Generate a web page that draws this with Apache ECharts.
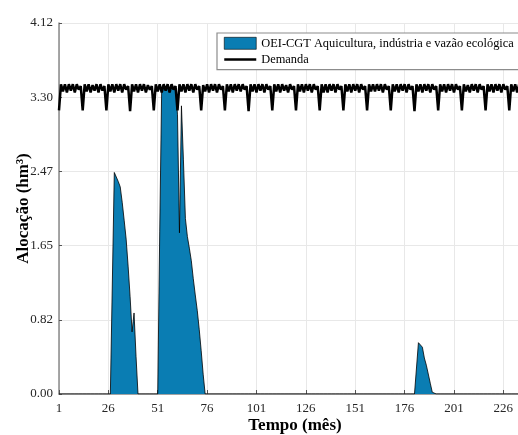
<!DOCTYPE html>
<html>
<head>
<meta charset="utf-8">
<script src="https://cdn.jsdelivr.net/npm/echarts@6/dist/echarts.min.js"></script>
<style>html,body{margin:0;padding:0;background:#fff}#c{width:518px;height:435px}</style>
</head>
<body>
<div id="c"></div>
<script>
// Months 1..240 (x categories)
const months = [];
for (let m = 1; m <= 240; m++) months.push(String(m));
const xTickLabels = [1, 26, 51, 76, 101, 126, 151, 176, 201, 226];
const yTicks = [0.00, 0.82, 1.65, 2.47, 3.30, 4.12];

// OEI-CGT allocation (hm³), month 1..240
const allocation = [
  0,0,0,0,0,0,0,0,0,0,0,0,
  0,0,0,0,0,0,0,0,0,0,0,0,
  0,0,0,0,2.46,2.41,2.36,2.30,2.13,1.93,1.72,1.42,
  1.08,0.69,0.90,0.42,0,0,0,0,0,0,0,0,
  0,0,0,1.80,3.40,3.44,3.37,3.44,3.35,3.44,3.38,3.42,
  3.10,1.79,3.20,2.60,1.95,1.75,1.62,1.48,1.28,1.10,0.93,0.72,
  0.48,0.22,0,0,0,0,0,0,0,0,0,0,
  0,0,0,0,0,0,0,0,0,0,0,0,
  0,0,0,0,0,0,0,0,0,0,0,0,
  0,0,0,0,0,0,0,0,0,0,0,0,
  0,0,0,0,0,0,0,0,0,0,0,0,
  0,0,0,0,0,0,0,0,0,0,0,0,
  0,0,0,0,0,0,0,0,0,0,0,0,
  0,0,0,0,0,0,0,0,0,0,0,0,
  0,0,0,0,0,0,0,0,0,0,0,0,
  0,0,0.57,0.55,0.52,0.40,0.32,0.31,0.12,0.02,0,0,
  0,0,0,0,0,0,0,0,0,0,0,0,
  0,0,0,0,0,0,0,0,0,0,0,0,
  0,0,0,0,0,0,0,0,0,0,0,0,
  0,0,0,0,0,0,0,0,0,0,0,0
];

// Demand (hm³), month 1..240
const demand = [
  3.15,3.44,3.36,3.44,3.35,3.44,3.37,3.44,3.35,3.44,3.38,3.42,
  3.15,3.44,3.36,3.44,3.35,3.43,3.37,3.44,3.35,3.44,3.37,3.42,
  3.15,3.44,3.36,3.44,3.35,3.44,3.37,3.44,3.35,3.44,3.38,3.42,
  3.14,3.44,3.36,3.44,3.35,3.44,3.37,3.44,3.35,3.43,3.38,3.42,
  3.15,3.44,3.36,3.44,3.35,3.44,3.37,3.44,3.35,3.44,3.38,3.42,
  3.15,3.44,3.36,3.44,3.35,3.44,3.37,3.44,3.35,3.44,3.38,3.42,
  3.15,3.43,3.36,3.44,3.35,3.44,3.37,3.44,3.35,3.44,3.38,3.42,
  3.15,3.44,3.36,3.44,3.35,3.44,3.37,3.44,3.36,3.44,3.38,3.42,
  3.14,3.44,3.36,3.44,3.35,3.44,3.37,3.44,3.35,3.44,3.38,3.42,
  3.15,3.44,3.36,3.44,3.35,3.44,3.37,3.43,3.35,3.44,3.38,3.42,
  3.15,3.44,3.36,3.44,3.35,3.44,3.37,3.44,3.35,3.44,3.38,3.42,
  3.15,3.44,3.35,3.44,3.35,3.44,3.37,3.44,3.35,3.44,3.38,3.42,
  3.15,3.44,3.36,3.44,3.35,3.44,3.37,3.44,3.35,3.44,3.38,3.42,
  3.15,3.44,3.36,3.44,3.36,3.44,3.37,3.44,3.35,3.44,3.38,3.42,
  3.15,3.44,3.36,3.44,3.35,3.44,3.37,3.44,3.35,3.44,3.38,3.42,
  3.14,3.44,3.36,3.44,3.35,3.44,3.37,3.44,3.35,3.44,3.38,3.42,
  3.15,3.44,3.36,3.44,3.35,3.44,3.37,3.44,3.35,3.44,3.38,3.42,
  3.15,3.44,3.36,3.43,3.35,3.44,3.37,3.44,3.35,3.44,3.38,3.42,
  3.15,3.44,3.36,3.44,3.35,3.44,3.37,3.44,3.35,3.44,3.38,3.42,
  3.15,3.44,3.36,3.44,3.35,3.44,3.37,3.44,3.35,3.44,3.38,3.42
];

const FONT = "'Liberation Serif','Times New Roman',serif";
const showTick = (idx, val) => xTickLabels.indexOf(Number(val)) >= 0;

const chart = echarts.init(document.getElementById('c'), null, {renderer: 'canvas'});
chart.setOption({
  animation: false,
  backgroundColor: '#ffffff',
  grid: {left: 59, right: -13, top: 23, bottom: 41, containLabel: false, outerBoundsMode: 'none'},
  legend: {
    orient: 'vertical',
    left: 217, top: 33,
    padding: [4, 16, 4, 6],
    itemGap: 4,
    itemWidth: 32, itemHeight: 12,
    backgroundColor: '#ffffff',
    borderColor: '#8c8c8c', borderWidth: 1.2, borderRadius: 0,
    textStyle: {fontFamily: FONT, fontSize: 12.4, color: '#000'},
    data: [
      {name: 'OEI-CGT Aquicultura, indústria e vazão ecológica', icon: 'rect',
       itemStyle: {color: '#0a7db3', borderColor: '#000', borderWidth: 0.6}},
      {name: 'Demanda', itemStyle: {opacity: 0, color: 'rgba(0,0,0,0)', borderWidth: 0},
       lineStyle: {color: '#000', width: 2.5, opacity: 1}}
    ]
  },
  xAxis: {
    type: 'category',
    data: months,
    boundaryGap: false,
    name: 'Tempo (mês)',
    nameLocation: 'middle',
    nameGap: 23,
    nameMoveOverlap: false,
    nameTextStyle: {fontFamily: FONT, fontSize: 17, fontWeight: 'bold', color: '#000'},
    axisLine: {show: true, lineStyle: {color: '#8a8a8a', width: 1.5}},
    axisTick: {show: true, inside: true, length: 4, interval: showTick, lineStyle: {color: '#555'}},
    axisLabel: {interval: showTick, fontFamily: FONT, fontSize: 13, color: '#262626', margin: 8},
    splitLine: {show: true, interval: showTick, lineStyle: {color: '#e8e8e8', width: 1}}
  },
  yAxis: {
    type: 'value',
    min: 0, max: 4.12, interval: 0.824,
    name: 'Alocação (hm³)',
    nameLocation: 'middle',
    nameGap: 27,
    nameMoveOverlap: false,
    nameTextStyle: {fontFamily: FONT, fontSize: 17, fontWeight: 'bold', color: '#000'},
    axisLine: {show: true, lineStyle: {color: '#8a8a8a', width: 1.5}},
    axisTick: {show: true, inside: true, length: 3, lineStyle: {color: '#555'}},
    axisLabel: {fontFamily: FONT, fontSize: 13, color: '#262626', margin: 6,
      formatter: v => v.toFixed(2)},
    splitLine: {show: true, lineStyle: {color: '#e8e8e8', width: 1}}
  },
  series: [
    {
      name: 'OEI-CGT Aquicultura, indústria e vazão ecológica',
      type: 'line',
      data: allocation,
      symbol: 'none',
      lineStyle: {color: '#000', width: 0.8},
      itemStyle: {color: '#0a7db3'},
      areaStyle: {color: '#0a7db3', opacity: 1},
      z: 2
    },
    {
      name: 'Demanda',
      type: 'line',
      data: demand,
      symbol: 'none',
      lineStyle: {color: '#000', width: 2.5},
      itemStyle: {color: '#000'},
      z: 3
    }
  ]
});
</script>
</body>
</html>
